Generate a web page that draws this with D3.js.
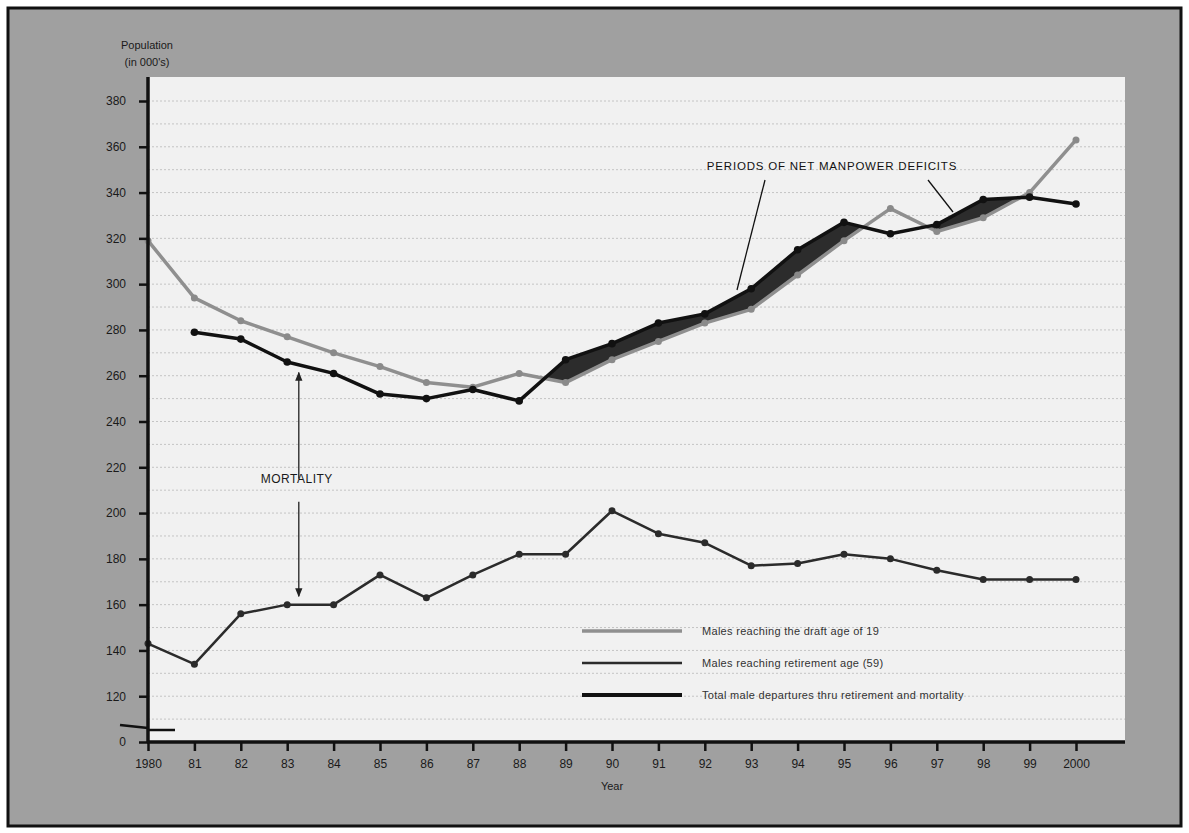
<!DOCTYPE html>
<html>
<head>
<meta charset="utf-8">
<script src="https://cdn.jsdelivr.net/npm/d3@7.9.0/dist/d3.min.js"></script>
<style>
  body { margin: 0; background: #fff; }
  text { font-family: "Liberation Sans", Arial, sans-serif; }
</style>
</head>
<body>
<div id="chart"></div>
<script>
// years and tick labels
const years = d3.range(1980, 2001);
const yearLabels = ["1980","81","82","83","84","85","86","87","88","89","90",
                    "91","92","93","94","95","96","97","98","99","2000"];

// Males reaching the draft age of 19
const draftAge = [319, 294, 284, 277, 270, 264, 257, 255, 261, 257, 267,
                  275, 283, 289, 304, 319, 333, 323, 329, 340, 363];
// Males reaching retirement age (59)
const retirementAge = [143, 134, 156, 160, 160, 173, 163, 173, 182, 182, 201,
                       191, 187, 177, 178, 182, 180, 175, 171, 171, 171];
// Total male departures thru retirement and mortality (starts 1981)
const totalDepartures = [null, 279, 276, 266, 261, 252, 250, 254, 249, 267, 274,
                         283, 287, 298, 315, 327, 322, 326, 337, 338, 335];

const yTicks = [100, 120, 140, 160, 180, 200, 220, 240, 260, 280, 300, 320, 340, 360, 380];
const yTickLabel = v => v === 100 ? "0" : String(v);

const legendItems = [
  { label: "Males reaching the draft age of 19", color: "#8f8f8f", width: 3.5 },
  { label: "Males reaching retirement age (59)", color: "#2b2b2b", width: 2.5 },
  { label: "Total male departures thru retirement and mortality", color: "#111", width: 4 }
];

const W = 1189, H = 833;
const svg = d3.select("#chart").append("svg")
    .attr("width", W)
    .attr("height", H);

// outer frame
svg.append("rect")
    .attr("x", 8).attr("y", 8)
    .attr("width", 1173).attr("height", 818)
    .attr("fill", "#a0a0a0")
    .attr("stroke", "#111")
    .attr("stroke-width", 3);

const plotLeft = 148, plotRight = 1125, plotTop = 77, plotBottom = 742;

const x = d3.scaleLinear().domain([1980, 2000]).range([148, 1076]);
const y = d3.scaleLinear().domain([100, 380]).range([742, 101]);

// plot background
svg.append("rect")
    .attr("x", plotLeft).attr("y", plotTop)
    .attr("width", plotRight - plotLeft).attr("height", plotBottom - plotTop)
    .attr("fill", "#f1f1f1");

// faint horizontal grid
svg.append("g")
  .selectAll("line")
  .data(d3.range(110, 381, 10))
  .join("line")
    .attr("x1", plotLeft).attr("x2", plotRight)
    .attr("y1", d => y(d)).attr("y2", d => y(d))
    .attr("stroke", "#c4c4c4")
    .attr("stroke-width", 1)
    .attr("stroke-dasharray", "2,2");

// deficit shading: region where departures exceed draft-age entries
const pts = years.map((yr, i) => ({ yr, draft: draftAge[i], ret: retirementAge[i], tot: totalDepartures[i] }));
const withTot = pts.filter(d => d.tot !== null);

const defs = svg.append("defs");
defs.append("clipPath").attr("id", "aboveDraft")
  .append("path")
    .attr("d", d3.area().x(d => x(d.yr)).y0(d => y(d.draft)).y1(plotTop)(withTot));

svg.append("path")
    .attr("clip-path", "url(#aboveDraft)")
    .attr("d", d3.area().x(d => x(d.yr)).y0(plotBottom).y1(d => y(d.tot))(withTot))
    .attr("fill", "#2c2c2c");

// lines
const line = d3.line().x(d => x(d.yr));

svg.append("path")
    .attr("d", line.y(d => y(d.draft))(pts))
    .attr("fill", "none")
    .attr("stroke", "#8f8f8f")
    .attr("stroke-width", 3.5)
    .attr("stroke-linejoin", "round");

svg.append("path")
    .attr("d", line.y(d => y(d.tot))(withTot))
    .attr("fill", "none")
    .attr("stroke", "#111")
    .attr("stroke-width", 3.5)
    .attr("stroke-linejoin", "round");

svg.append("path")
    .attr("d", line.y(d => y(d.ret))(pts))
    .attr("fill", "none")
    .attr("stroke", "#2b2b2b")
    .attr("stroke-width", 2.5)
    .attr("stroke-linejoin", "round");

// markers
svg.append("g").selectAll("circle").data(pts).join("circle")
    .attr("cx", d => x(d.yr)).attr("cy", d => y(d.draft)).attr("r", 3.5)
    .attr("fill", "#8a8a8a");
svg.append("g").selectAll("circle").data(withTot).join("circle")
    .attr("cx", d => x(d.yr)).attr("cy", d => y(d.tot)).attr("r", 3.8)
    .attr("fill", "#111");
svg.append("g").selectAll("circle").data(pts).join("circle")
    .attr("cx", d => x(d.yr)).attr("cy", d => y(d.ret)).attr("r", 3.5)
    .attr("fill", "#2b2b2b");

// y axis
const yAxis = svg.append("g")
    .attr("transform", `translate(${plotLeft},0)`)
    .call(d3.axisLeft(y).tickValues(yTicks).tickFormat(yTickLabel).tickSize(9).tickPadding(13));
yAxis.select(".domain").remove();
yAxis.selectAll(".tick line").attr("stroke", "#111").attr("stroke-width", 2.5);
yAxis.selectAll(".tick text")
    .attr("font-size", 12)
    .attr("fill", "#1a1a1a");

svg.append("line")
    .attr("x1", plotLeft).attr("x2", plotLeft)
    .attr("y1", plotTop).attr("y2", plotBottom + 1)
    .attr("stroke", "#111").attr("stroke-width", 3.5);

// axis break mark
svg.append("line")
    .attr("x1", 120).attr("y1", 725).attr("x2", plotLeft).attr("y2", 728)
    .attr("stroke", "#111").attr("stroke-width", 2.5);
svg.append("line")
    .attr("x1", plotLeft).attr("y1", 730).attr("x2", 175).attr("y2", 730)
    .attr("stroke", "#111").attr("stroke-width", 2.5);

// x axis
const xAxis = svg.append("g")
    .attr("transform", `translate(0,${plotBottom})`)
    .call(d3.axisBottom(x).tickValues(years).tickFormat((d, i) => yearLabels[i]).tickSize(9).tickPadding(8));
xAxis.select(".domain").remove();
xAxis.selectAll(".tick line").attr("stroke", "#111").attr("stroke-width", 2.5);
xAxis.selectAll(".tick text")
    .attr("font-size", 12)
    .attr("fill", "#1a1a1a");

svg.append("line")
    .attr("x1", plotLeft - 1).attr("x2", plotRight)
    .attr("y1", plotBottom).attr("y2", plotBottom)
    .attr("stroke", "#111").attr("stroke-width", 3.5);

// axis titles
svg.append("text").attr("x", 147).attr("y", 49)
    .attr("text-anchor", "middle").attr("font-size", 11).attr("fill", "#1a1a1a")
    .text("Population");
svg.append("text").attr("x", 147).attr("y", 66)
    .attr("text-anchor", "middle").attr("font-size", 11).attr("fill", "#1a1a1a")
    .text("(in 000's)");
svg.append("text").attr("x", x(1990)).attr("y", 790)
    .attr("text-anchor", "middle").attr("font-size", 11).attr("fill", "#1a1a1a")
    .text("Year");

// mortality annotation
const mortYear = 1983.25;
const mortTop = 264, mortBottom = 161;
const arrowDefs = defs.append("marker")
    .attr("id", "arrow")
    .attr("viewBox", "0 0 10 10")
    .attr("refX", 9).attr("refY", 5)
    .attr("markerWidth", 7).attr("markerHeight", 7)
    .attr("orient", "auto-start-reverse");
arrowDefs.append("path").attr("d", "M0,1 L10,5 L0,9 Z").attr("fill", "#222");

svg.append("line")
    .attr("x1", x(mortYear)).attr("x2", x(mortYear))
    .attr("y1", y(mortTop) + 6).attr("y2", y(215))
    .attr("stroke", "#222").attr("stroke-width", 1.3)
    .attr("marker-start", "url(#arrow)");
svg.append("line")
    .attr("x1", x(mortYear)).attr("x2", x(mortYear))
    .attr("y1", y(205)).attr("y2", y(mortBottom) - 6)
    .attr("stroke", "#222").attr("stroke-width", 1.3)
    .attr("marker-end", "url(#arrow)");
svg.append("text")
    .attr("x", x(mortYear) - 2).attr("y", 483)
    .attr("text-anchor", "middle").attr("font-size", 12).attr("fill", "#1a1a1a")
    .attr("letter-spacing", 0.5)
    .text("MORTALITY");

// deficits annotation
svg.append("text")
    .attr("x", 832).attr("y", 170)
    .attr("text-anchor", "middle").attr("font-size", 11.5).attr("fill", "#111")
    .attr("letter-spacing", 0.8)
    .text("PERIODS OF NET MANPOWER DEFICITS");
svg.append("line")
    .attr("x1", 765).attr("y1", 180).attr("x2", 737).attr("y2", 290)
    .attr("stroke", "#111").attr("stroke-width", 1.3);
svg.append("line")
    .attr("x1", 928).attr("y1", 180).attr("x2", 953).attr("y2", 212)
    .attr("stroke", "#111").attr("stroke-width", 1.3);

// legend
const legend = svg.append("g").attr("transform", "translate(582,631)");
legendItems.forEach((d, i) => {
  const g = legend.append("g").attr("transform", `translate(0,${i * 32})`);
  g.append("line")
      .attr("x1", 0).attr("x2", 100)
      .attr("stroke", d.color).attr("stroke-width", d.width);
  g.append("text")
      .attr("x", 120).attr("y", 4)
      .attr("font-size", 11).attr("fill", "#333")
      .attr("letter-spacing", 0.3)
      .text(d.label);
});
</script>
</body>
</html>
